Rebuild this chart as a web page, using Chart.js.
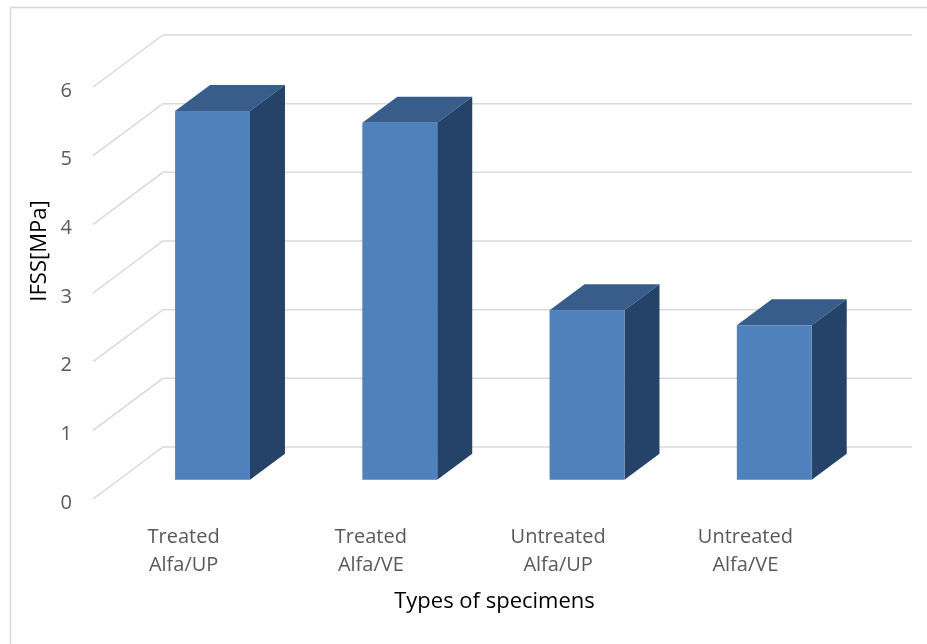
<!DOCTYPE html>
<html>
<head>
<meta charset="utf-8">
<script src="https://cdn.jsdelivr.net/npm/chart.js@4.4.1/dist/chart.umd.min.js"></script>
<style>
  html, body { margin: 0; padding: 0; background: #fff; }
</style>
</head>
<body>
<canvas id="ifssChart" width="927" height="644"></canvas>
<script>
const categories = [
  ['Treated', 'Alfa/UP'],
  ['Treated', 'Alfa/VE'],
  ['Untreated', 'Alfa/UP'],
  ['Untreated', 'Alfa/VE']
];
const ifssValues = [5.37, 5.20, 2.47, 2.25];
const yTicks = [0, 1, 2, 3, 4, 5, 6];

// fake 3D: depth vector from the front plane to the back wall
const DEPTH_X = 70, DEPTH_Y = -52;
const BAR_FRONT = 0.37, BAR_BACK = 0.87;

const box3dPlugin = {
  id: 'box3d',
  beforeDraw(chart) {
    const ctx = chart.ctx;
    ctx.save();
    ctx.fillStyle = '#fff';
    ctx.fillRect(0, 0, chart.width, chart.height);
    ctx.strokeStyle = '#d9d9d9';
    ctx.lineWidth = 1.5;
    ctx.strokeRect(10.5, 7.5, chart.width, chart.height);
    ctx.restore();
  },
  beforeDatasetsDraw(chart) {
    const { ctx, chartArea, scales: { y } } = chart;
    ctx.save();
    ctx.strokeStyle = '#d9d9d9';
    ctx.lineWidth = 1.5;
    y.ticks.forEach(t => {
      const py = y.getPixelForValue(t.value);
      ctx.beginPath();
      ctx.moveTo(chartArea.left, py);
      ctx.lineTo(chartArea.left + DEPTH_X, py + DEPTH_Y);
      ctx.lineTo(chartArea.right + DEPTH_X, py + DEPTH_Y);
      ctx.stroke();
    });
    ctx.restore();
  },
  afterDatasetsDraw(chart) {
    const ctx = chart.ctx;
    const fx = DEPTH_X * BAR_FRONT, fy = DEPTH_Y * BAR_FRONT;
    const dx = DEPTH_X * (BAR_BACK - BAR_FRONT), dy = DEPTH_Y * (BAR_BACK - BAR_FRONT);
    const poly = (pts, color) => {
      ctx.beginPath();
      ctx.moveTo(pts[0][0], pts[0][1]);
      pts.slice(1).forEach(p => ctx.lineTo(p[0], p[1]));
      ctx.closePath();
      ctx.fillStyle = color;
      ctx.fill();
    };
    ctx.save();
    chart.getDatasetMeta(0).data.forEach(bar => {
      const l = bar.x - bar.width / 2 + fx, r = bar.x + bar.width / 2 + fx;
      const t = bar.y + fy, b = bar.base + fy;
      poly([[l, t], [l + dx, t + dy], [r + dx, t + dy], [r, t]], '#385d8a'); // top
      poly([[r, t], [r + dx, t + dy], [r + dx, b + dy], [r, b]], '#254369'); // side
      ctx.fillStyle = '#4f81bd';
      ctx.fillRect(l, t, r - l, b - t); // front
    });
    ctx.restore();
  },
  afterDraw(chart) {
    const { ctx, chartArea } = chart;
    ctx.save();
    ctx.fillStyle = '#000';
    ctx.font = '22px "Open Sans"';
    ctx.textAlign = 'center';
    ctx.textBaseline = 'middle';
    // axis titles
    ctx.fillText('Types of specimens', (chartArea.left + chartArea.right + DEPTH_X) / 2 - 8, chartArea.bottom + 103);
    ctx.translate(40, (chartArea.top + chartArea.bottom + DEPTH_Y) / 2 - 16);
    ctx.rotate(-Math.PI / 2);
    ctx.fillText('IFSS[MPa]', 0, 0);
    ctx.restore();
  }
};

const ctx = document.getElementById('ifssChart').getContext('2d');
const ifssChart = new Chart(ctx, {
  type: 'bar',
  data: {
    labels: categories,
    datasets: [{
      label: 'IFSS',
      data: ifssValues,
      backgroundColor: 'rgba(0,0,0,0)',
      borderWidth: 0,
      barPercentage: 0.4,
      categoryPercentage: 1
    }]
  },
  plugins: [box3dPlugin],
  options: {
    responsive: false,
    animation: false,
    layout: {
      padding: { left: 0, right: 85, top: 87, bottom: 0 }
    },
    plugins: {
      legend: { display: false },
      tooltip: { enabled: false }
    },
    scales: {
      x: {
        grid: { display: false, drawTicks: false },
        border: { display: false },
        ticks: {
          color: '#595959',
          font: { family: 'Open Sans', size: 20, lineHeight: 1.4 },
          padding: 24,
          labelOffset: -3,
          maxRotation: 0
        },
        afterFit(scale) { scale.height = 145; }
      },
      y: {
        min: 0,
        max: 6,
        grid: { display: false, drawTicks: false },
        border: { display: false },
        afterBuildTicks(scale) { scale.ticks = yTicks.map(v => ({ value: v })); },
        ticks: {
          color: '#595959',
          font: { family: 'Open Sans', size: 20 },
          padding: 21,
          labelOffset: 4
        },
        afterFit(scale) { scale.width = 93; }
      }
    }
  }
});
</script>
</body>
</html>
